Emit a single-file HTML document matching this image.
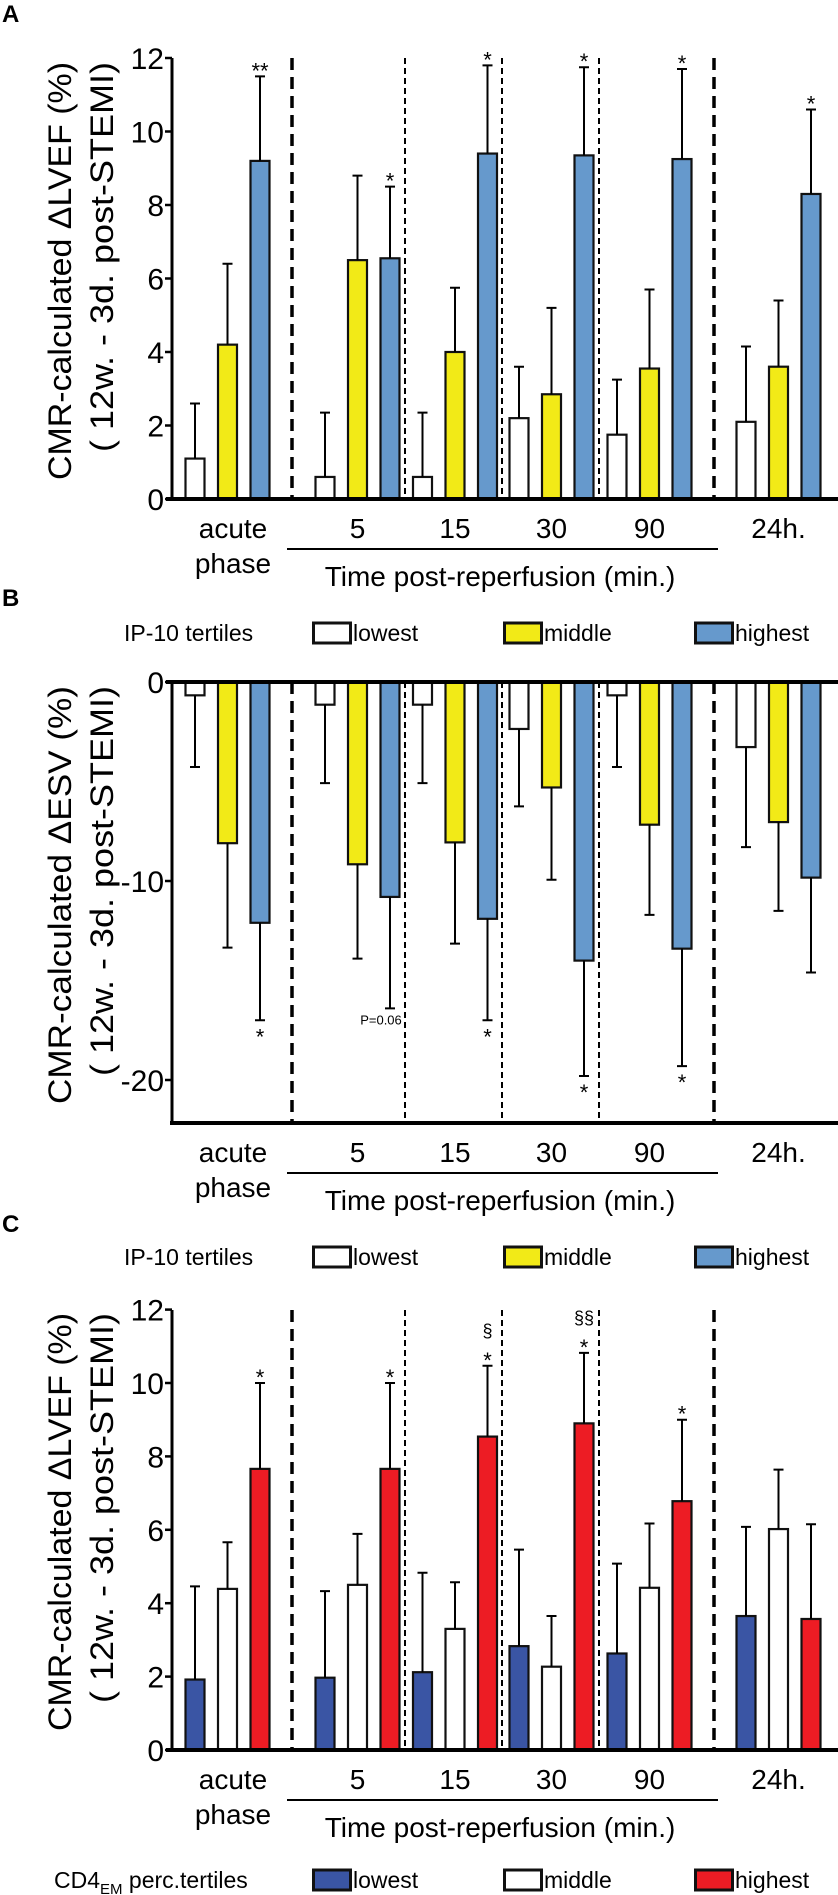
<!DOCTYPE html>
<html><head><meta charset="utf-8"><style>
html,body{margin:0;padding:0;background:#fff;}
svg{display:block;font-family:"Liberation Sans",Arial,sans-serif;}
</style></head><body>
<svg id="fig" width="838" height="1895" viewBox="0 0 838 1895" xmlns="http://www.w3.org/2000/svg"></svg>
<script>
// ----- shared categories -----
const groups = ["acute", "5", "15", "30", "90", "24h."];
// Panel A: ΔLVEF by IP-10 tertiles
const aLowest = [1.1, 0.6, 0.6, 2.2, 1.75, 2.1];
const aLowestErr = [2.6, 2.35, 2.35, 3.6, 3.25, 4.15];
const aMiddle = [4.2, 6.5, 4.0, 2.85, 3.55, 3.6];
const aMiddleErr = [6.4, 8.8, 5.75, 5.2, 5.7, 5.4];
const aHighest = [9.2, 6.55, 9.4, 9.35, 9.25, 8.3];
const aHighestErr = [11.5, 8.5, 11.8, 11.75, 11.7, 10.6];
const aSig = ["**", "*", "*", "*", "*", "*"];
const aTicks = [0, 2, 4, 6, 8, 10, 12];
// Panel B: ΔESV by IP-10 tertiles
const bLowest = [-0.67, -1.14, -1.14, -2.36, -0.67, -3.27];
const bLowestErr = [-4.27, -5.08, -5.08, -6.25, -4.27, -8.3];
const bMiddle = [-8.1, -9.16, -8.06, -5.3, -7.17, -7.04];
const bMiddleErr = [-13.35, -13.9, -13.15, -9.94, -11.7, -11.5];
const bHighest = [-12.1, -10.8, -11.9, -14.0, -13.4, -9.83];
const bHighestErr = [-17.0, -16.4, -17.0, -19.8, -19.3, -14.6];
const bSig = ["*", "P=0.06", "*", "*", "*", ""];
const bTicks = [0, -10, -20];
// Panel C: ΔLVEF by CD4EM tertiles
const cLowest = [1.92, 1.97, 2.12, 2.83, 2.63, 3.65];
const cLowestErr = [4.46, 4.33, 4.83, 5.46, 5.08, 6.08];
const cMiddle = [4.39, 4.5, 3.3, 2.27, 4.42, 6.02];
const cMiddleErr = [5.66, 5.89, 4.57, 3.65, 6.17, 7.64];
const cHighest = [7.66, 7.66, 8.54, 8.9, 6.78, 3.57];
const cHighestErr = [10.0, 10.0, 10.47, 10.82, 9.0, 6.15];
const cSig = ["*", "*", "§\n*", "§§\n*", "*", ""];
const cTicks = [0, 2, 4, 6, 8, 10, 12];

const NS = "http://www.w3.org/2000/svg";
const svg = document.getElementById("fig");
function mk(tag, attrs, parent, text) {
  const e = document.createElementNS(NS, tag);
  for (const k in attrs) e.setAttribute(k, attrs[k]);
  if (text !== undefined) e.textContent = text;
  (parent || svg).appendChild(e);
  return e;
}
const groupCenters = [227.5, 357.5, 455, 551.5, 649.5, 778.5];
const offsets = [-32.5, 0, 32.5];
const BW = 19;

function panel(o) {
  const g = mk("g", {});
  
  
  const y = v => o.y0 - (v - 0) * o.ppu;
  // panel letter
  const L = mk("text", {x: 2, y: o.letterY, "font-size": 24, "font-weight": "bold"}, g, o.letter);
  
  
  // dividers
  const divs = [[292, true], [405, false], [502, false], [599, false], [714, true]];
  divs.forEach(([x, thick]) => {
    const d = mk("line", {x1: x, x2: x, y1: o.divTop, y2: o.divBot, stroke: "#000",
      "stroke-width": thick ? 3.5 : 2, "stroke-dasharray": thick ? "12 7" : "6 4"}, g);
    
    
  });
  // bars
  const series = o.series;
  series.forEach((s, si) => {
    s.vals.forEach((v, gi) => {
      const cx = groupCenters[gi] + offsets[si];
      const yv = y(v), yz = y(0);
      const r = mk("rect", {x: cx - BW / 2, y: Math.min(yv, yz), width: BW, height: Math.abs(yz - yv),
        fill: s.color, stroke: "#111", "stroke-width": 2.2}, g);
      
      
      const ye = y(s.err[gi]);
      const e = mk("path", {d: `M${cx} ${yv} V${ye} M${cx - 5} ${ye} H${cx + 5}`, stroke: "#000", "stroke-width": 2, fill: "none"}, g);
      
      
    });
  });
  // significance on last series
  const hs = series[2];
  o.sig.forEach((s, gi) => {
    if (!s) return;
    const cx = groupCenters[gi] + offsets[2];
    const ye = y(hs.err[gi]);
    const lines = s.split("\n");
    if (s === "P=0.06") {
      const t = mk("text", {x: cx - 9, y: ye + 16, "font-size": 13, "text-anchor": "middle"}, g, s);
      
      
      return;
    }
    lines.forEach((ln, li) => {
      let ty;
      if (o.neg) ty = ye + 24;
      else ty = ye - 6 - (lines.length - 1 - li) * 23 + (ln.indexOf("§") >= 0 ? 0 : 8);
      const t = mk("text", {x: cx, y: ty, "font-size": ln.indexOf("§") >= 0 ? 18 : 22, "text-anchor": "middle"}, g, ln);
      
      
    });
  });
  // axes
  const yAxis = mk("line", {x1: 172, x2: 172, y1: o.axTop, y2: o.axBot, stroke: "#000", "stroke-width": 3}, g);
  
  
  const xz = mk("line", {x1: 166, x2: 838, y1: y(0), y2: y(0), stroke: "#000", "stroke-width": 4}, g);
  
  
  if (o.neg) {
    const xb = mk("line", {x1: 170, x2: 838, y1: o.axBot, y2: o.axBot, stroke: "#000", "stroke-width": 4}, g);
    
    
  }
  o.ticks.forEach(t => {
    const ty = y(t);
    const tk = mk("line", {x1: 165, x2: 172, y1: ty, y2: ty, stroke: "#000", "stroke-width": 2.5}, g);
    
    
    const tl = mk("text", {x: 164, y: ty + 11, "font-size": 30, "text-anchor": "end"}, g, String(t));
    
    
  });
  // y title
  const tc = o.titleC;
  const t1 = mk("text", {x: 0, y: 0, "font-size": 32, "text-anchor": "middle", transform: `translate(71,${tc}) rotate(-90)`, textLength: 418, lengthAdjust: "spacingAndGlyphs"}, g, o.title1);
  
  
  const t2 = mk("text", {x: 0, y: 0, "font-size": 32, "text-anchor": "middle", transform: `translate(113,${tc - 14}) rotate(-90)`, textLength: 390, lengthAdjust: "spacingAndGlyphs"}, g, "( 12w. - 3d. post-STEMI)");
  
  
  // x labels
  const xb = o.axBot;
  groups.forEach((gname, gi) => {
    const lbl = gname === "acute" ? "acute" : gname;
    const tx = gi === 0 ? 233 : groupCenters[gi];
    const t = mk("text", {x: tx, y: xb + 39, "font-size": 28, "text-anchor": "middle"}, g, lbl);
    
    
  });
  const ph = mk("text", {x: 233, y: xb + 74, "font-size": 28, "text-anchor": "middle"}, g, "phase");
  
  
  const ul = mk("line", {x1: 287, x2: 718, y1: xb + 50, y2: xb + 50, stroke: "#000", "stroke-width": 2}, g);
  
  
  const tt = mk("text", {x: 500, y: xb + 87, "font-size": 28, "text-anchor": "middle"}, g, "Time post-reperfusion (min.)");
  
  
}

function legend(yc, labelNode, items) {
  const g = mk("g", {});
  
  
  labelNode(g, yc);
  const xs = [[312, 355], [503, 545], [694, 737]];
  items.forEach((it, i) => {
    const r = mk("rect", {x: xs[i][0] + 1.5, y: yc - 10, width: 37, height: 20, fill: it.color, stroke: "#111", "stroke-width": 3}, g);
    
    
    const t = mk("text", {x: xs[i][0] + 41, y: yc + 8, "font-size": 23}, g, it.label);
    
    
  });
}

const WH = "#ffffff", YE = "#f2ea17", BL = "#6699cc", DB = "#3a55a4", RD = "#ed1c24";

panel({name: "panel-a", letter: "A", letterY: 22, y0: 499, ppu: 36.75, ticks: aTicks,
  divTop: 58, divBot: 499, axTop: 58, axBot: 499, titleC: 271, title1: "CMR-calculated ΔLVEF (%)",
  series: [{key: "lowest", color: WH, vals: aLowest, err: aLowestErr},
           {key: "middle", color: YE, vals: aMiddle, err: aMiddleErr},
           {key: "highest", color: BL, vals: aHighest, err: aHighestErr}], sig: aSig});

panel({name: "panel-b", letter: "B", letterY: 606, y0: 682, ppu: 19.9, ticks: bTicks, neg: true,
  divTop: 682, divBot: 1123, axTop: 682, axBot: 1123, titleC: 895, title1: "CMR-calculated ΔESV (%)",
  series: [{key: "lowest", color: WH, vals: bLowest, err: bLowestErr},
           {key: "middle", color: YE, vals: bMiddle, err: bMiddleErr},
           {key: "highest", color: BL, vals: bHighest, err: bHighestErr}], sig: bSig});

panel({name: "panel-c", letter: "C", letterY: 1232, y0: 1750, ppu: 36.7, ticks: cTicks,
  divTop: 1310, divBot: 1750, axTop: 1310, axBot: 1750, titleC: 1522, title1: "CMR-calculated ΔLVEF (%)",
  series: [{key: "lowest", color: DB, vals: cLowest, err: cLowestErr},
           {key: "middle", color: WH, vals: cMiddle, err: cMiddleErr},
           {key: "highest", color: RD, vals: cHighest, err: cHighestErr}], sig: cSig});

const ipLabel = (g, yc) => {
  const t = mk("text", {x: 124, y: yc + 8, "font-size": 23}, g, "IP-10 tertiles");
  
  
};
legend(633, ipLabel, [{label: "lowest", color: WH}, {label: "middle", color: YE}, {label: "highest", color: BL}]);
legend(1257, ipLabel, [{label: "lowest", color: WH}, {label: "middle", color: YE}, {label: "highest", color: BL}]);
legend(1880, (g, yc) => {
  const t = mk("text", {x: 54, y: yc + 8, "font-size": 23}, g);
  
  
  mk("tspan", {}, t, "CD4");
  mk("tspan", {"font-size": 15, dy: 6}, t, "EM");
  mk("tspan", {dy: -6}, t, " perc.tertiles");
}, [{label: "lowest", color: DB}, {label: "middle", color: WH}, {label: "highest", color: RD}]);
</script>
</body></html>
